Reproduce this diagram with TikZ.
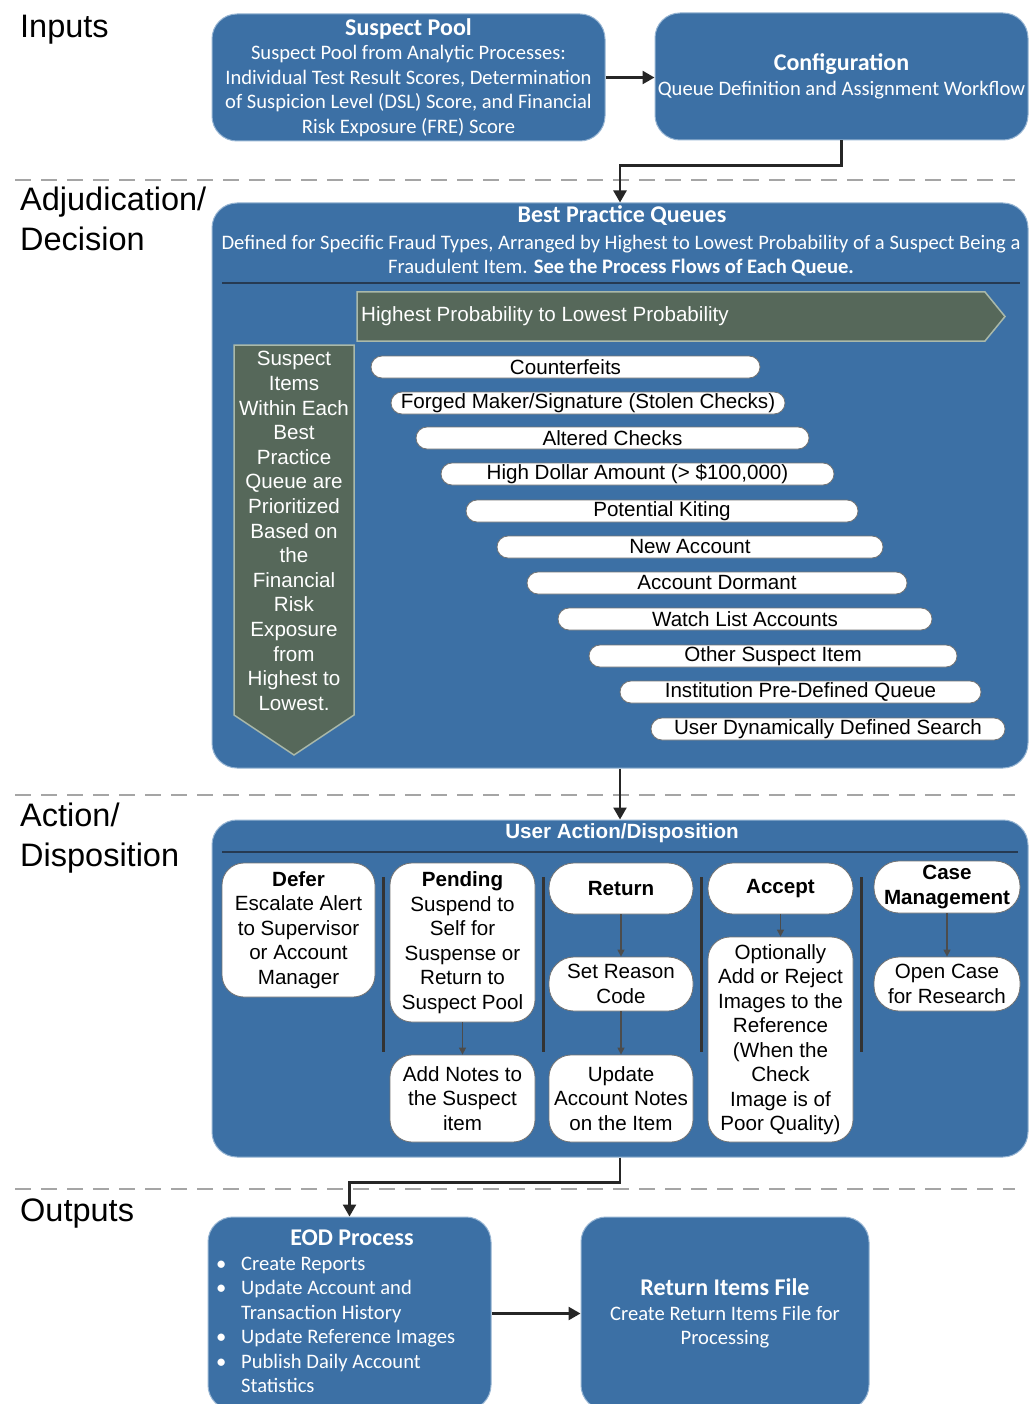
\documentclass[tikz,border=0pt]{standalone}
\usepackage{fontspec}
\setmainfont{Liberation Sans}
\newfontfamily\calfont{Carlito}
\usetikzlibrary{arrows.meta}
\definecolor{boxblue}{RGB}{60,112,165}
\definecolor{boxedge}{RGB}{150,180,210}
\definecolor{gbox}{RGB}{86,104,90}
\definecolor{gedge}{RGB}{170,185,170}
\definecolor{sepline}{RGB}{38,58,82}
\definecolor{lanegray}{RGB}{165,165,165}
\tikzset{
 bluebox/.style={draw=boxedge, line width=1pt, fill=boxblue, rounded corners=25pt, inner sep=0pt},
 bluetext/.style={text=white, font=\calfont\fontsize{20.6}{24.5}\selectfont, align=center, inner sep=0pt},
 bluetitle/.style={text=white, font=\calfont\bfseries\fontsize{24}{24.5}\selectfont, align=center, inner sep=0pt},
 wbox/.style={draw=black!55, line width=0.8pt, fill=white, rounded corners=22pt, inner sep=0pt, align=center, font=\fontsize{20.6}{24.5}\selectfont, text=black},
 pill/.style={draw=black!55, line width=0.8pt, fill=white, rounded corners=11pt, minimum height=22pt, inner sep=0pt, font=\fontsize{20.6}{22}\selectfont},
 lanelabel/.style={anchor=base west, font=\fontsize{32.5}{40}\selectfont, inner sep=0pt},
 lane/.style={draw=lanegray, line width=2pt, dash pattern=on 16pt off 10pt},
 bigarrow/.style={draw=black!85, line width=2.5pt, -{Triangle[length=12pt,width=13pt]}},
 smallarrow/.style={draw=black!70, line width=1.2pt, -{Triangle[length=7pt,width=7pt]}},
 colsep/.style={draw=black!80, line width=3pt},
 sepl/.style={draw=sepline, line width=1.5pt},
 greenshape/.style={fill=gbox, draw=gedge, line width=1.5pt},
 greentext/.style={text=white, font=\fontsize{20.6}{24.6}\selectfont, align=center, inner sep=0pt},
}
\begin{document}
\begin{tikzpicture}[x=1pt,y=-1pt]
\useasboundingbox (0,0) rectangle (1029,1404);
\clip (0,0) rectangle (1029,1404);
\fill[white] (0,0) rectangle (1029,1404);

% lanes
\draw[lane] (15,180) -- (1015,180);
\draw[lane] (15,795) -- (1015,795);
\draw[lane] (15,1189) -- (1015,1189);

\node[lanelabel] (lin) at (20,38) {Inputs};
\node[lanelabel] (ladj1) at (20,211) {Adjudication/};
\node[lanelabel] (ladj2) at (20,251) {Decision};
\node[lanelabel] (lact1) at (20,826) {Action/};
\node[lanelabel] (lact2) at (20,866) {Disposition};
\node[lanelabel] (lout) at (20,1221) {Outputs};

% inputs
\node[bluebox, minimum width=393pt, minimum height=127pt, bluetext] (sp) at (408.5,77.5)
 {{\bfseries\fontsize{24}{24.5}\selectfont Suspect Pool}\\
  Suspect Pool from Analytic Processes:\\
  Individual Test Result Scores, Determination\\
  of Suspicion Level (DSL) Score, and Financial\\
  Risk Exposure (FRE) Score};
\node[bluebox, minimum width=373pt, minimum height=127pt, bluetext] (cfg) at (841.5,76.5)
 {{\bfseries\fontsize{24}{24.5}\selectfont Configuration}\\
  Queue Definition and Assignment Workflow};

% best practice queues
\node[bluebox, minimum width=816pt, minimum height=565pt] (bpq) at (620,485.5) {};
\node[bluetitle] (bpqt) at (622,216) {Best Practice Queues};
\node[bluetext] (bpqb) at (621,255.5)
 {Defined for Specific Fraud Types, Arranged by Highest to Lowest Probability of a Suspect Being a\\
  Fraudulent Item. \textbf{See the Process Flows of Each Queue.}};
\draw[sepl] (222,283) -- (1020,283);

\filldraw[greenshape] (357,292) -- (985,292) -- (1005,316.5) -- (985,341) -- (357,341) -- cycle;
\node[greentext, anchor=west] (bannert) at (361,316.5) {Highest Probability to Lowest Probability};

\filldraw[greenshape] (234,345) -- (354,345) -- (354,715) -- (294,755) -- (234,715) -- cycle;
\node[greentext] (leftt) at (294,531)
 {Suspect\\Items\\Within Each\\Best\\Practice\\Queue are\\Prioritized\\Based on\\the\\Financial\\Risk\\Exposure\\from\\Highest to\\Lowest.};

\node[pill, minimum width=389pt] (q1) at (565.5,367) {Counterfeits};
\node[pill, minimum width=394pt] (q2) at (588,403) {Forged Maker/Signature (Stolen Checks)};
\node[pill, minimum width=393pt] (q3) at (612.5,438) {Altered Checks};
\node[pill, minimum width=393pt] (q4) at (637.5,474) {High Dollar Amount (> \$100,000)};
\node[pill, minimum width=392pt] (q5) at (662,511) {Potential Kiting};
\node[pill, minimum width=386pt] (q6) at (690,547) {New Account};
\node[pill, minimum width=380pt] (q7) at (717,583) {Account Dormant};
\node[pill, minimum width=374pt] (q8) at (745,619) {Watch List Accounts};
\node[pill, minimum width=368pt] (q9) at (773,656) {Other Suspect Item};
\node[pill, minimum width=361pt] (q10) at (800.5,692) {Institution Pre-Defined Queue};
\node[pill, minimum width=354pt] (q11) at (828,729) {User Dynamically Defined Search};

% user action
\node[bluebox, minimum width=816pt, minimum height=337pt] (ua) at (620,988.5) {};
\node[text=white, font=\bfseries\fontsize{20.6}{24}\selectfont, inner sep=0pt] (uat) at (622,833) {User Action/Disposition};
\draw[sepl] (222,852) -- (1018,852);

\node[wbox, minimum width=153pt, minimum height=134pt] (defer) at (298.5,930)
 {\textbf{Defer}\\Escalate Alert\\to Supervisor\\or Account\\Manager};
\node[wbox, minimum width=145pt, minimum height=159pt] (pend) at (462.5,942.5)
 {\textbf{Pending}\\Suspend to\\Self for\\Suspense or\\Return to\\Suspect Pool};
\node[wbox, minimum width=145pt, minimum height=87pt] (addn) at (462.5,1098.5)
 {Add Notes to\\the Suspect\\item};
\node[wbox, rounded corners=25pt, minimum width=144pt, minimum height=51pt] (ret) at (621,888.5)
 {\textbf{Return}};
\node[wbox, rounded corners=25pt, minimum width=144pt, minimum height=54pt] (reason) at (621,984)
 {Set Reason\\Code};
\node[wbox, minimum width=144pt, minimum height=87pt] (upd) at (621,1098.5)
 {Update\\Account Notes\\on the Item};
\node[wbox, rounded corners=25pt, minimum width=145pt, minimum height=51pt] (acc) at (780.5,888.5)
 {\textbf{Accept}};
\node[wbox, minimum width=145pt, minimum height=205pt] (opt) at (780.5,1039.5)
 {Optionally\\Add or Reject\\Images to the\\Reference\\(When the\\Check\\Image is of\\Poor Quality)};
\node[wbox, rounded corners=25pt, minimum width=146pt, minimum height=52pt] (case) at (947,887)
 {\textbf{Case}\\\textbf{Management}};
\node[wbox, rounded corners=25pt, minimum width=146pt, minimum height=54pt] (open) at (947,984)
 {Open Case\\for Research};

\draw[colsep] (383,877) -- (383,1052);
\draw[colsep] (543,877) -- (543,1052);
\draw[colsep] (701,877) -- (701,1052);
\draw[colsep] (861,877) -- (861,1052);

\draw[smallarrow] (pend.south) -- (addn.north);
\draw[smallarrow] (ret.south) -- (reason.north);
\draw[smallarrow] (reason.south) -- (upd.north);
\draw[smallarrow] (acc.south) -- (opt.north);
\draw[smallarrow] (case.south) -- (open.north);

% outputs
\node[bluebox, minimum width=283pt, minimum height=193pt] (eod) at (349.5,1313.5) {};
\node[bluetitle] (eodt) at (352,1238) {EOD Process};
\node[bluetext, anchor=north west, align=left] (eodl) at (216,1253)
 {\begin{tabular}{@{}p{25pt}@{}l@{}}
  \textbullet & Create Reports\\
  \textbullet & Update Account and\\
              & Transaction History\\
  \textbullet & Update Reference Images\\
  \textbullet & Publish Daily Account\\
              & Statistics
  \end{tabular}};
\node[bluebox, minimum width=288pt, minimum height=193pt, bluetext] (rif) at (725,1313.5)
 {{\bfseries\fontsize{24}{24.5}\selectfont Return Items File}\\
  Create Return Items File for\\
  Processing};

% connectors
\draw[bigarrow] (sp.east) -- (sp.east -| cfg.west);
\draw[bigarrow] (cfg.south) -- ++(0,25) -| (bpq.north);
\draw[bigarrow] (bpq.south) -- (ua.north);
\draw[bigarrow] (ua.south) -- ++(0,25) -| (eod.north);
\draw[bigarrow] (eod.east |- rif.west) -- (rif.west);
\end{tikzpicture}
\end{document}
